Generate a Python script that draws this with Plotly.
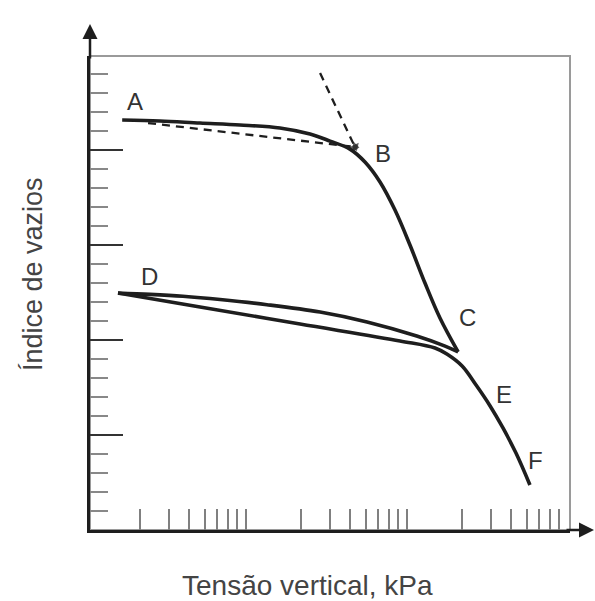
import numpy as np
import plotly.graph_objects as go

# Virgin compression curve A-B-C (vertical stress kPa, void ratio)
sig_virgin = [1.54, 2.64, 4.69, 8.3, 14.7, 22.6, 30.1, 40.0, 49.6, 61.5, 76.2, 94.4, 117, 145, 188]
e_virgin = [2.158, 2.153, 2.142, 2.132, 2.116, 2.084, 2.047, 2.005, 1.937, 1.832, 1.684, 1.500, 1.300, 1.116, 0.937]

# Unloading C-D
sig_unload = [188, 156, 104, 51.1, 26.1, 12.2, 6.24, 3.67, 2.29, 1.45]
e_unload = [0.937, 0.968, 1.021, 1.095, 1.147, 1.186, 1.213, 1.230, 1.240, 1.247]

# Reloading D-E-F
sig_reload = [1.45, 4.69, 19.6, 81.9, 135, 160, 199, 243, 297, 357, 430, 525]
e_reload = [1.247, 1.174, 1.084, 0.995, 0.958, 0.926, 0.863, 0.763, 0.653, 0.537, 0.405, 0.237]

# Dashed construction lines pointing to B
sig_tan1 = [2.23, 43.0]
e_tan1 = [2.142, 2.016]
sig_tan2 = [26.1, 43.0]
e_tan2 = [2.405, 2.016]

# Point labels
lab_text = ["A", "B", "C", "D", "E", "F"]
lab_sig = [1.85, 64.1, 216, 2.29, 362, 565]
lab_e = [2.258, 1.984, 1.121, 1.337, 0.711, 0.368]

# Axis tick positions
x_ticks = [2, 3, 4, 5, 6, 7, 8, 9, 20, 30, 40, 50, 60, 70, 80, 90,
           200, 300, 400, 500, 600, 700, 800]
y_major = [0.5, 1.0, 1.5, 2.0]
y_minor = [round(0.1 * i, 1) for i in range(1, 25) if i % 5 != 0]

INK = "#1e1e1e"
FONT = "Liberation Sans, Arial, sans-serif"

fig = go.Figure()
lw = 3.6
fig.add_trace(go.Scatter(x=sig_virgin, y=e_virgin, mode="lines",
                         line=dict(color=INK, width=lw, shape="spline"), hoverinfo="skip"))
fig.add_trace(go.Scatter(x=sig_unload, y=e_unload, mode="lines",
                         line=dict(color=INK, width=lw, shape="spline"), hoverinfo="skip"))
fig.add_trace(go.Scatter(x=sig_reload, y=e_reload, mode="lines",
                         line=dict(color=INK, width=lw, shape="spline"), hoverinfo="skip"))
for sx, sy in [(sig_tan1, e_tan1), (sig_tan2, e_tan2)]:
    fig.add_trace(go.Scatter(x=sx, y=sy, mode="lines+markers",
                             line=dict(color=INK, width=2.3, dash="8px,6px"),
                             marker=dict(symbol="triangle-up", size=[0, 9], color=INK,
                                         angleref="previous", line=dict(width=0)),
                             hoverinfo="skip"))

annotations = []
for t, sx, sy in zip(lab_text, lab_sig, lab_e):
    annotations.append(dict(x=np.log10(sx), y=sy, xref="x", yref="y", text=t,
                            showarrow=False, font=dict(size=24, color="#333", family=FONT)))

# axis arrows
annotations.append(dict(x=0, y=1 + 32 / 474, xref="paper", yref="paper", ax=0, ay=36,
                        showarrow=True, arrowhead=2, arrowsize=1.2, arrowwidth=2.5,
                        arrowcolor=INK, text=""))
annotations.append(dict(x=1 + 25 / 480, y=0, xref="paper", yref="paper", ax=-30, ay=0,
                        showarrow=True, arrowhead=2, arrowsize=1.2, arrowwidth=2.5,
                        arrowcolor=INK, text=""))
# axis titles
annotations.append(dict(x=(307 - 90) / 480, y=-(585 - 530) / 474, xref="paper", yref="paper",
                        xanchor="center", yanchor="middle",
                        text="Tensão vertical, kPa", showarrow=False,
                        font=dict(size=28, color="#444", family=FONT)))
annotations.append(dict(x=-(90 - 33) / 480, y=(530 - 274) / 474, xref="paper", yref="paper",
                        xanchor="center", yanchor="middle",
                        text="Índice de vazios", showarrow=False, textangle=-90,
                        font=dict(size=27, color="#444", family=FONT)))

fig.update_layout(
    width=595, height=601,
    margin=dict(l=90, r=25, t=56, b=71),
    paper_bgcolor="white", plot_bgcolor="white",
    showlegend=False,
    annotations=annotations,
    shapes=[dict(type="rect", xref="paper", yref="paper", x0=0, x1=1, y0=0, y1=1,
                 line=dict(color="#9a9a9a", width=2), layer="below")],
    xaxis=dict(type="log", range=[-0.0124, 2.969], showline=True, linecolor=INK, linewidth=2.5,
               ticks="inside", tickmode="array", tickvals=x_ticks, ticklen=21, tickwidth=1.5,
               tickcolor="#808080", showticklabels=False, showgrid=False, zeroline=False),
    yaxis=dict(range=[0, 2.495], showline=True, linecolor=INK, linewidth=2.5,
               ticks="inside", tickmode="array", tickvals=y_major, ticklen=33, tickwidth=2,
               tickcolor="#333", showticklabels=False, showgrid=False, zeroline=False,
               minor=dict(tickmode="array", tickvals=y_minor, ticks="inside", ticklen=18,
                          tickwidth=1.5, tickcolor="#888", showgrid=False)),
)

fig.write_html("out.html")
